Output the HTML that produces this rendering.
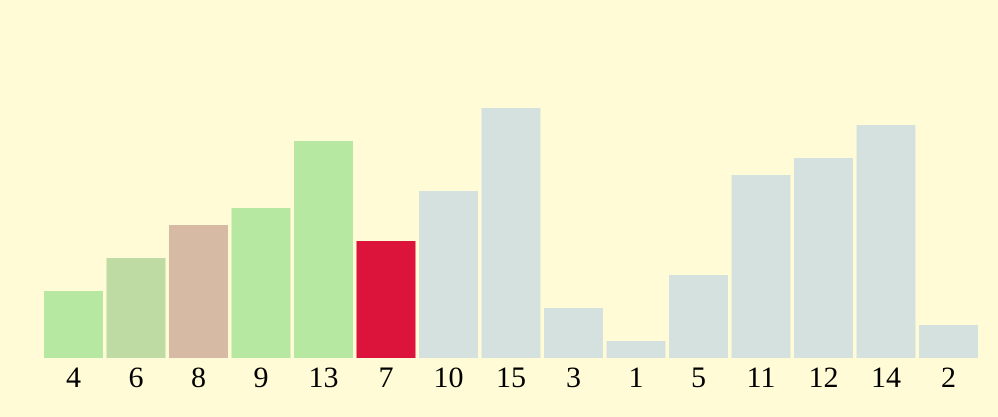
<!DOCTYPE html>
<html lang="en">
<head>
<meta charset="utf-8">
<title>Bar chart</title>
<style>
  html, body { margin: 0; padding: 0; background: #fffbd6; }
  #chart { display: block; width: 998px; height: 417px; }
  .tick { font-family: "Liberation Serif", serif; font-size: 30px; fill: #000; text-anchor: middle; }
  .s-sorted { fill: #b6e8a2; }
  .s-mix-a { fill: #bddba2; }
  .s-mix-b { fill: #d6baa3; }
  .s-active { fill: #dc143c; }
  .s-idle { fill: #d5e1df; }
</style>
</head>
<body>
<svg id="chart" xmlns="http://www.w3.org/2000/svg" width="998" height="417" viewBox="0 0 998 417"></svg>
<script>
const categories = ["4", "6", "8", "9", "13", "7", "10", "15", "3", "1", "5", "11", "12", "14", "2"];
const values = [4, 6, 8, 9, 13, 7, 10, 15, 3, 1, 5, 11, 12, 14, 2];
const states = ["sorted", "mix-a", "mix-b", "sorted", "sorted", "active", "idle", "idle", "idle", "idle", "idle", "idle", "idle", "idle", "idle"];

const NS = "http://www.w3.org/2000/svg";
const svg = document.getElementById("chart");
const plotLeft = 44;
const bandStep = 62.5;
const barWidth = 59;
const baseline = 358;
const unitHeight = 250 / 15;
const labelBaseline = 387;

function xScale(i) { return plotLeft + i * bandStep; }
function yScale(v) { return Math.round(baseline - v * unitHeight); }

values.forEach(function (v, i) {
  const bar = document.createElementNS(NS, "rect");
  bar.setAttribute("x", xScale(i));
  bar.setAttribute("y", yScale(v));
  bar.setAttribute("width", barWidth);
  bar.setAttribute("height", baseline - yScale(v));
  bar.setAttribute("class", "s-" + states[i]);
  
  
  svg.appendChild(bar);

  const label = document.createElementNS(NS, "text");
  label.setAttribute("x", xScale(i) + barWidth / 2);
  label.setAttribute("y", labelBaseline);
  label.setAttribute("class", "tick");
  label.textContent = categories[i];
  
  
  svg.appendChild(label);
});
</script>
</body>
</html>
